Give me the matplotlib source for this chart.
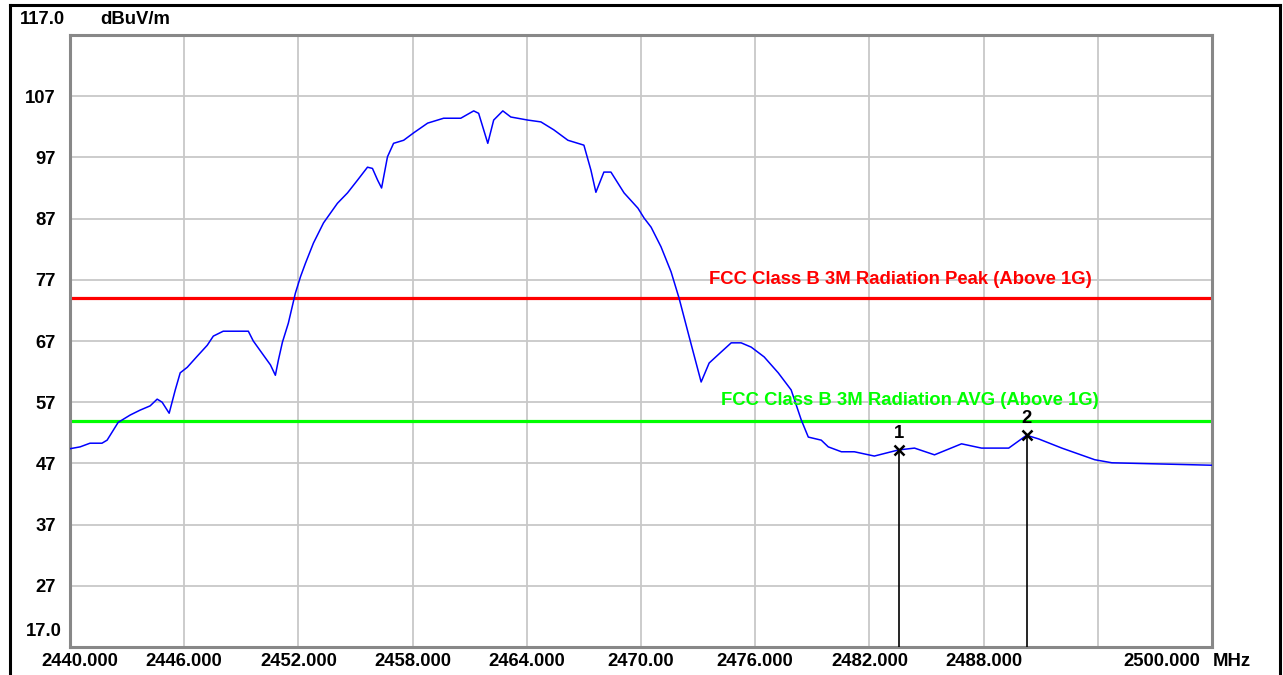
import matplotlib.pyplot as plt
import matplotlib.transforms as mtransforms
from matplotlib.lines import Line2D

# spectrum trace (MHz, dBuV/m)
freq = [2440.00, 2440.53, 2441.05, 2441.68, 2441.95, 2442.53, 2443.16, 2443.68,
        2444.21, 2444.58, 2444.84, 2445.21, 2445.53, 2445.79, 2446.16, 2446.68,
        2447.21, 2447.53, 2448.05, 2448.79, 2449.37, 2449.63, 2450.16, 2450.53,
        2450.79, 2450.95, 2451.16, 2451.47, 2451.84, 2452.11, 2452.37, 2452.79,
        2453.32, 2454.05, 2454.58, 2455.11, 2455.63, 2455.89, 2456.16, 2456.37,
        2456.68, 2457.00, 2457.53, 2458.05, 2458.79, 2459.63, 2460.53, 2461.21,
        2461.47, 2461.95, 2462.26, 2462.74, 2463.16, 2464.05, 2464.74, 2465.42,
        2466.16, 2467.00, 2467.37, 2467.63, 2468.05, 2468.42, 2469.11, 2469.84,
        2470.16, 2470.53, 2471.05, 2471.58, 2472.00, 2472.53, 2473.16, 2473.58,
        2474.21, 2474.74, 2475.26, 2475.79, 2476.47, 2477.21, 2477.89, 2478.42,
        2478.79, 2479.47, 2479.84, 2480.53, 2481.21, 2482.26, 2483.53, 2484.37,
        2485.42, 2486.84, 2487.89, 2489.32, 2490.26, 2490.89, 2492.11, 2493.84,
        2494.74, 2497.37, 2500.00]
level = [49.4, 49.7, 50.3, 50.3, 50.8, 53.7, 54.9, 55.7,
         56.4, 57.5, 57.0, 55.2, 59.0, 61.8, 62.7, 64.5,
         66.3, 67.8, 68.6, 68.6, 68.6, 67.0, 64.7, 63.1,
         61.4, 63.9, 66.8, 69.9, 74.8, 77.5, 79.7, 83.0,
         86.3, 89.5, 91.2, 93.3, 95.4, 95.2, 93.3, 92.0,
         97.1, 99.3, 99.8, 101.0, 102.6, 103.4, 103.4, 104.6,
         104.2, 99.3, 103.1, 104.6, 103.6, 103.1, 102.8, 101.5,
         99.8, 99.0, 94.9, 91.3, 94.6, 94.6, 91.2, 88.7,
         87.1, 85.6, 82.4, 78.3, 74.0, 67.7, 60.3, 63.4,
         65.2, 66.7, 66.7, 66.0, 64.4, 61.8, 59.0, 54.1,
         51.3, 50.8, 49.7, 48.9, 48.9, 48.2, 49.2, 49.5,
         48.4, 50.2, 49.5, 49.5, 51.6, 51.0, 49.5, 47.6,
         47.1, 46.9, 46.7]

peak_limit = 74.0
avg_limit = 54.0
peak_label = 'FCC Class B 3M Radiation Peak (Above 1G)'
avg_label = 'FCC Class B 3M Radiation AVG (Above 1G)'

marker_ids = ['1', '2']
marker_freq = [2483.53, 2490.26]
marker_level = [49.2, 51.6]

x_ticks = [2440, 2446, 2452, 2458, 2464, 2470, 2476, 2482, 2488, 2494, 2500]
x_labels = ['2440.000', '2446.000', '2452.000', '2458.000', '2464.000', '2470.00',
            '2476.000', '2482.000', '2488.000', '', '2500.000']
y_ticks = [27, 37, 47, 57, 67, 77, 87, 97, 107]

plt.rcParams['font.family'] = ['Liberation Sans', 'DejaVu Sans']
plt.rcParams['font.weight'] = 'bold'
fs = 13.3

fig = plt.figure(figsize=(12.83, 6.75), dpi=100)
ax = fig.add_axes([70 / 1283, 1 - 647 / 675, 1142 / 1283, 612 / 675])

ax.plot(freq, level, color='#0000ff', lw=1.1, zorder=3)
ax.axhline(peak_limit, color='#ff0000', lw=2.3, zorder=2)
ax.axhline(avg_limit, color='#00ff00', lw=2.3, zorder=2)
ax.text(2493.7, 77.0, peak_label, color='#ff0000', fontsize=fs, ha='right', va='center')
ax.text(2494.05, 57.2, avg_label, color='#00ff00', fontsize=fs, ha='right', va='center')

for mid, mf, ml in zip(marker_ids, marker_freq, marker_level):
    ax.plot([mf, mf], [17, ml], color='black', lw=1.2, zorder=4)
    ax.plot(mf, ml, marker='x', color='black', ms=7, mew=1.8, zorder=5)
    ax.text(mf, ml + 1.3, mid, color='black', fontsize=fs, ha='center', va='bottom')

ax.set_xlim(2440, 2500)
ax.set_ylim(17, 117)
ax.set_xticks(x_ticks)
ax.set_xticklabels(x_labels, fontsize=fs)
ax.set_yticks(y_ticks)
ax.set_yticklabels([str(v) for v in y_ticks], fontsize=fs)
ax.tick_params(length=0)
ax.tick_params(axis='x', pad=4)
ax.tick_params(axis='y', pad=10)
ax.grid(True, color='#c8c8c8', lw=1.3)
ax.set_axisbelow(True)
for sp in ax.spines.values():
    sp.set_color('#888888')
    sp.set_linewidth(2.2)

# nudge first and last frequency labels like the analyzer does
xl = ax.get_xticklabels()
xl[0].set_transform(xl[0].get_transform() + mtransforms.ScaledTranslation(0.10, 0, fig.dpi_scale_trans))
xl[-1].set_transform(xl[-1].get_transform() + mtransforms.ScaledTranslation(-0.50, 0, fig.dpi_scale_trans))

fig.text(65 / 1283, 1 - 20 / 675, '117.0', fontsize=fs, ha='right', va='center')
fig.text(100 / 1283, 1 - 20 / 675, 'dBuV/m', fontsize=fs, ha='left', va='center')
fig.text(62 / 1283, 1 - 631 / 675, '17.0', fontsize=fs, ha='right', va='center')
fig.text(1213 / 1283, 1 - 661 / 675, 'MHz', fontsize=fs, ha='left', va='center')

# outer black frame of the screenshot
fig.add_artist(Line2D([10 / 1283, 10 / 1283], [0, 1 - 5 / 675], color='black', lw=2.2))
fig.add_artist(Line2D([10 / 1283, 1280 / 1283], [1 - 5 / 675, 1 - 5 / 675], color='black', lw=2.2))
fig.add_artist(Line2D([1280 / 1283, 1280 / 1283], [0, 1 - 5 / 675], color='black', lw=2.2))

fig.savefig('out.png', dpi=100)
